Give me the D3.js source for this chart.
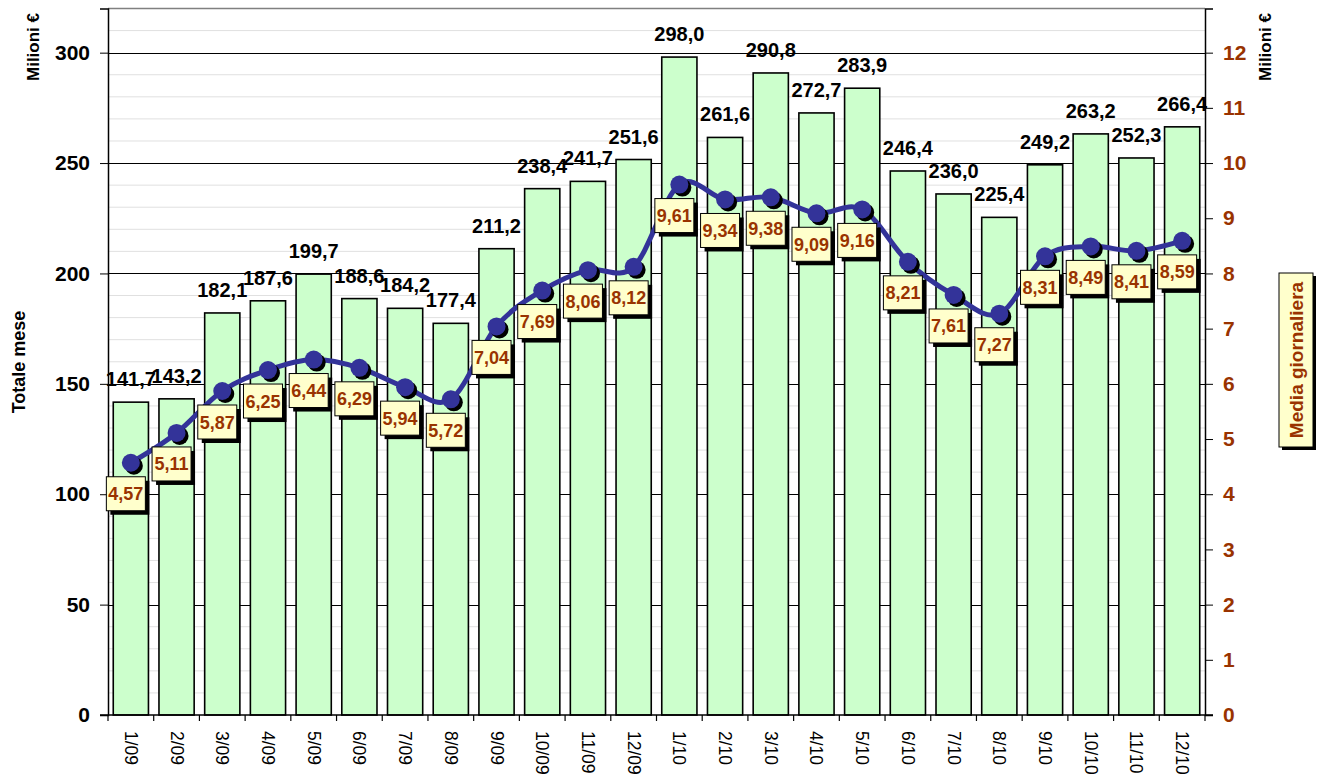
<!DOCTYPE html>
<html><head><meta charset="utf-8">
<script src="https://cdn.jsdelivr.net/npm/d3@7"></script>
<style>body{margin:0;background:#fff;font-family:"Liberation Sans",Arial,sans-serif;}</style>
</head><body><svg id="c" width="1320" height="777"></svg>
<script>
const categories = ["1/09","2/09","3/09","4/09","5/09","6/09","7/09","8/09","9/09","10/09","11/09","12/09","1/10","2/10","3/10","4/10","5/10","6/10","7/10","8/10","9/10","10/10","11/10","12/10"];
const totaleMese = [141.7,143.2,182.1,187.6,199.7,188.6,184.2,177.4,211.2,238.4,241.7,251.6,298.0,261.6,290.8,272.7,283.9,246.4,236.0,225.4,249.2,263.2,252.3,266.4];
const mediaGiornaliera = [4.57,5.11,5.87,6.25,6.44,6.29,5.94,5.72,7.04,7.69,8.06,8.12,9.61,9.34,9.38,9.09,9.16,8.21,7.61,7.27,8.31,8.49,8.41,8.59];
const leftTicks = [0,50,100,150,200,250,300];
const rightTicks = [0,1,2,3,4,5,6,7,8,9,10,11,12];
const minorTicks = d3.range(10,321,10);

const svg = d3.select("#c");
const L = 108, R = 1205, T = 8.5, B = 715;
const fmt = (v, d) => v.toFixed(d).replace(".", ",");

const x = d3.scaleBand().domain(categories).range([L, R]).paddingInner(0.23).paddingOuter(0.115);
const y = d3.scaleLinear().domain([0, 320]).range([B, T]);
const y2 = d3.scaleLinear().domain([0, 12.8]).range([B, T]);

// minor gridlines
svg.append("g").selectAll("line").data(minorTicks.filter(v => v % 50 !== 0)).join("line")
  .attr("x1", L).attr("x2", R).attr("y1", d => y(d)).attr("y2", d => y(d))
  .attr("stroke", "#e0e0e0").attr("stroke-width", 1);
// major gridlines
svg.append("g").selectAll("line").data(leftTicks.filter(v => v > 0)).join("line")
  .attr("x1", L).attr("x2", R).attr("y1", d => Math.round(y(d)) + 0.5).attr("y2", d => Math.round(y(d)) + 0.5)
  .attr("stroke", "#000").attr("stroke-width", 1);
// top border
svg.append("line").attr("x1", L).attr("x2", R).attr("y1", T).attr("y2", T).attr("stroke", "#808080").attr("stroke-width", 1.5);

// bars
svg.append("g").selectAll("rect").data(totaleMese).join("rect")
  .attr("x", (d, i) => x(categories[i])).attr("width", x.bandwidth())
  .attr("y", d => y(d)).attr("height", d => B - y(d))
  .attr("fill", "#ccffcc").attr("stroke", "#000").attr("stroke-width", 1.6);

// bar labels
svg.append("g").selectAll("text").data(totaleMese).join("text")
  .attr("x", (d, i) => x(categories[i]) + x.bandwidth() / 2)
  .attr("y", d => y(d) - 16)
  .attr("text-anchor", "middle").attr("font-size", 20).attr("font-weight", "bold").attr("fill", "#000")
  .attr("transform-origin", "center").attr("textLength", null)
  .text(d => fmt(d, 1));

// axes
const axL = d3.axisLeft(y).tickValues(leftTicks).tickSize(8).tickPadding(10).tickFormat(d => d);
const gL = svg.append("g").attr("transform", `translate(${L},0)`).call(axL);
gL.selectAll("text").attr("font-size", 21).attr("font-weight", "bold").attr("fill", "#000").attr("font-family", "Liberation Sans, Arial");
gL.select(".domain").attr("stroke", "#000").attr("stroke-width", 1.5);

const axR = d3.axisRight(y2).tickValues(rightTicks).tickSize(8).tickPadding(10).tickFormat(d => d);
const gR = svg.append("g").attr("transform", `translate(${R},0)`).call(axR);
gR.selectAll("text").attr("font-size", 21).attr("font-weight", "bold").attr("fill", "#993300").attr("font-family", "Liberation Sans, Arial");
gR.select(".domain").attr("stroke", "#000").attr("stroke-width", 1.5);

// bottom axis
svg.append("line").attr("x1", L - 8).attr("x2", R + 8).attr("y1", B).attr("y2", B).attr("stroke", "#000").attr("stroke-width", 1.5);
const bounds = categories.map(c => x(c) - x.step() * x.paddingInner() / 2).concat([R]);
bounds[0] = L;
svg.append("g").selectAll("line").data(bounds).join("line")
  .attr("x1", d => d).attr("x2", d => d).attr("y1", B).attr("y2", B + 6).attr("stroke", "#000").attr("stroke-width", 1.2);
svg.append("g").selectAll("text").data(categories).join("text")
  .attr("transform", d => `translate(${x(d) + x.bandwidth() / 2 - 6},${B + 16}) rotate(90)`)
  .attr("font-size", 17.5).attr("fill", "#000").text(d => d);

// line
const line = d3.line().x((d, i) => x(categories[i]) + x.bandwidth() / 2).y(d => y2(d)).curve(d3.curveCardinal.tension(0));
svg.append("path").datum(mediaGiornaliera).attr("d", line).attr("fill", "none")
  .attr("stroke", "#333399").attr("stroke-width", 5).attr("stroke-linejoin", "round");
const pts = svg.append("g");
pts.selectAll("circle.s").data(mediaGiornaliera).join("circle").attr("class", "s")
  .attr("cx", (d, i) => x(categories[i]) + x.bandwidth() / 2 + 3).attr("cy", d => y2(d) + 3).attr("r", 9).attr("fill", "#000");
pts.selectAll("circle.m").data(mediaGiornaliera).join("circle").attr("class", "m")
  .attr("cx", (d, i) => x(categories[i]) + x.bandwidth() / 2).attr("cy", d => y2(d)).attr("r", 9).attr("fill", "#333399");

// line labels
const bw = 39, bh = 34;
const lab = svg.append("g").selectAll("g").data(mediaGiornaliera).join("g")
  .attr("transform", (d, i) => `translate(${x(categories[i]) + x.bandwidth() / 2 - 5},${y2(d) + 14})`);
lab.append("rect").attr("x", -bw / 2 + 4).attr("y", 4).attr("width", bw).attr("height", bh).attr("fill", "#000");
lab.append("rect").attr("x", -bw / 2).attr("y", 0).attr("width", bw).attr("height", bh).attr("fill", "#ffffcc").attr("stroke", "#000").attr("stroke-width", 1);
lab.append("text").attr("x", 0).attr("y", bh / 2 + 6.5).attr("text-anchor", "middle")
  .attr("font-size", 18).attr("font-weight", "bold").attr("fill", "#993300").text(d => fmt(d, 2));

// axis titles
svg.append("text").attr("transform", "translate(39,47) rotate(-90)").attr("text-anchor", "middle")
  .attr("font-size", 17).attr("font-weight", "bold").text("Milioni €");
svg.append("text").attr("transform", "translate(1271,47) rotate(-90)").attr("text-anchor", "middle")
  .attr("font-size", 17).attr("font-weight", "bold").text("Milioni €");
svg.append("text").attr("transform", "translate(25,362) rotate(-90)").attr("text-anchor", "middle")
  .attr("font-size", 18).attr("font-weight", "bold").text("Totale mese");
svg.append("rect").attr("x", 1282).attr("y", 276).attr("width", 34).attr("height", 174).attr("fill", "#000");
svg.append("rect").attr("x", 1279).attr("y", 273).attr("width", 34).attr("height", 174).attr("fill", "#ffffcc").attr("stroke", "#000").attr("stroke-width", 1);
svg.append("text").attr("transform", "translate(1303,360) rotate(-90)").attr("text-anchor", "middle")
  .attr("font-size", 19).attr("font-weight", "bold").attr("fill", "#993300").text("Media giornaliera");
</script></body></html>
